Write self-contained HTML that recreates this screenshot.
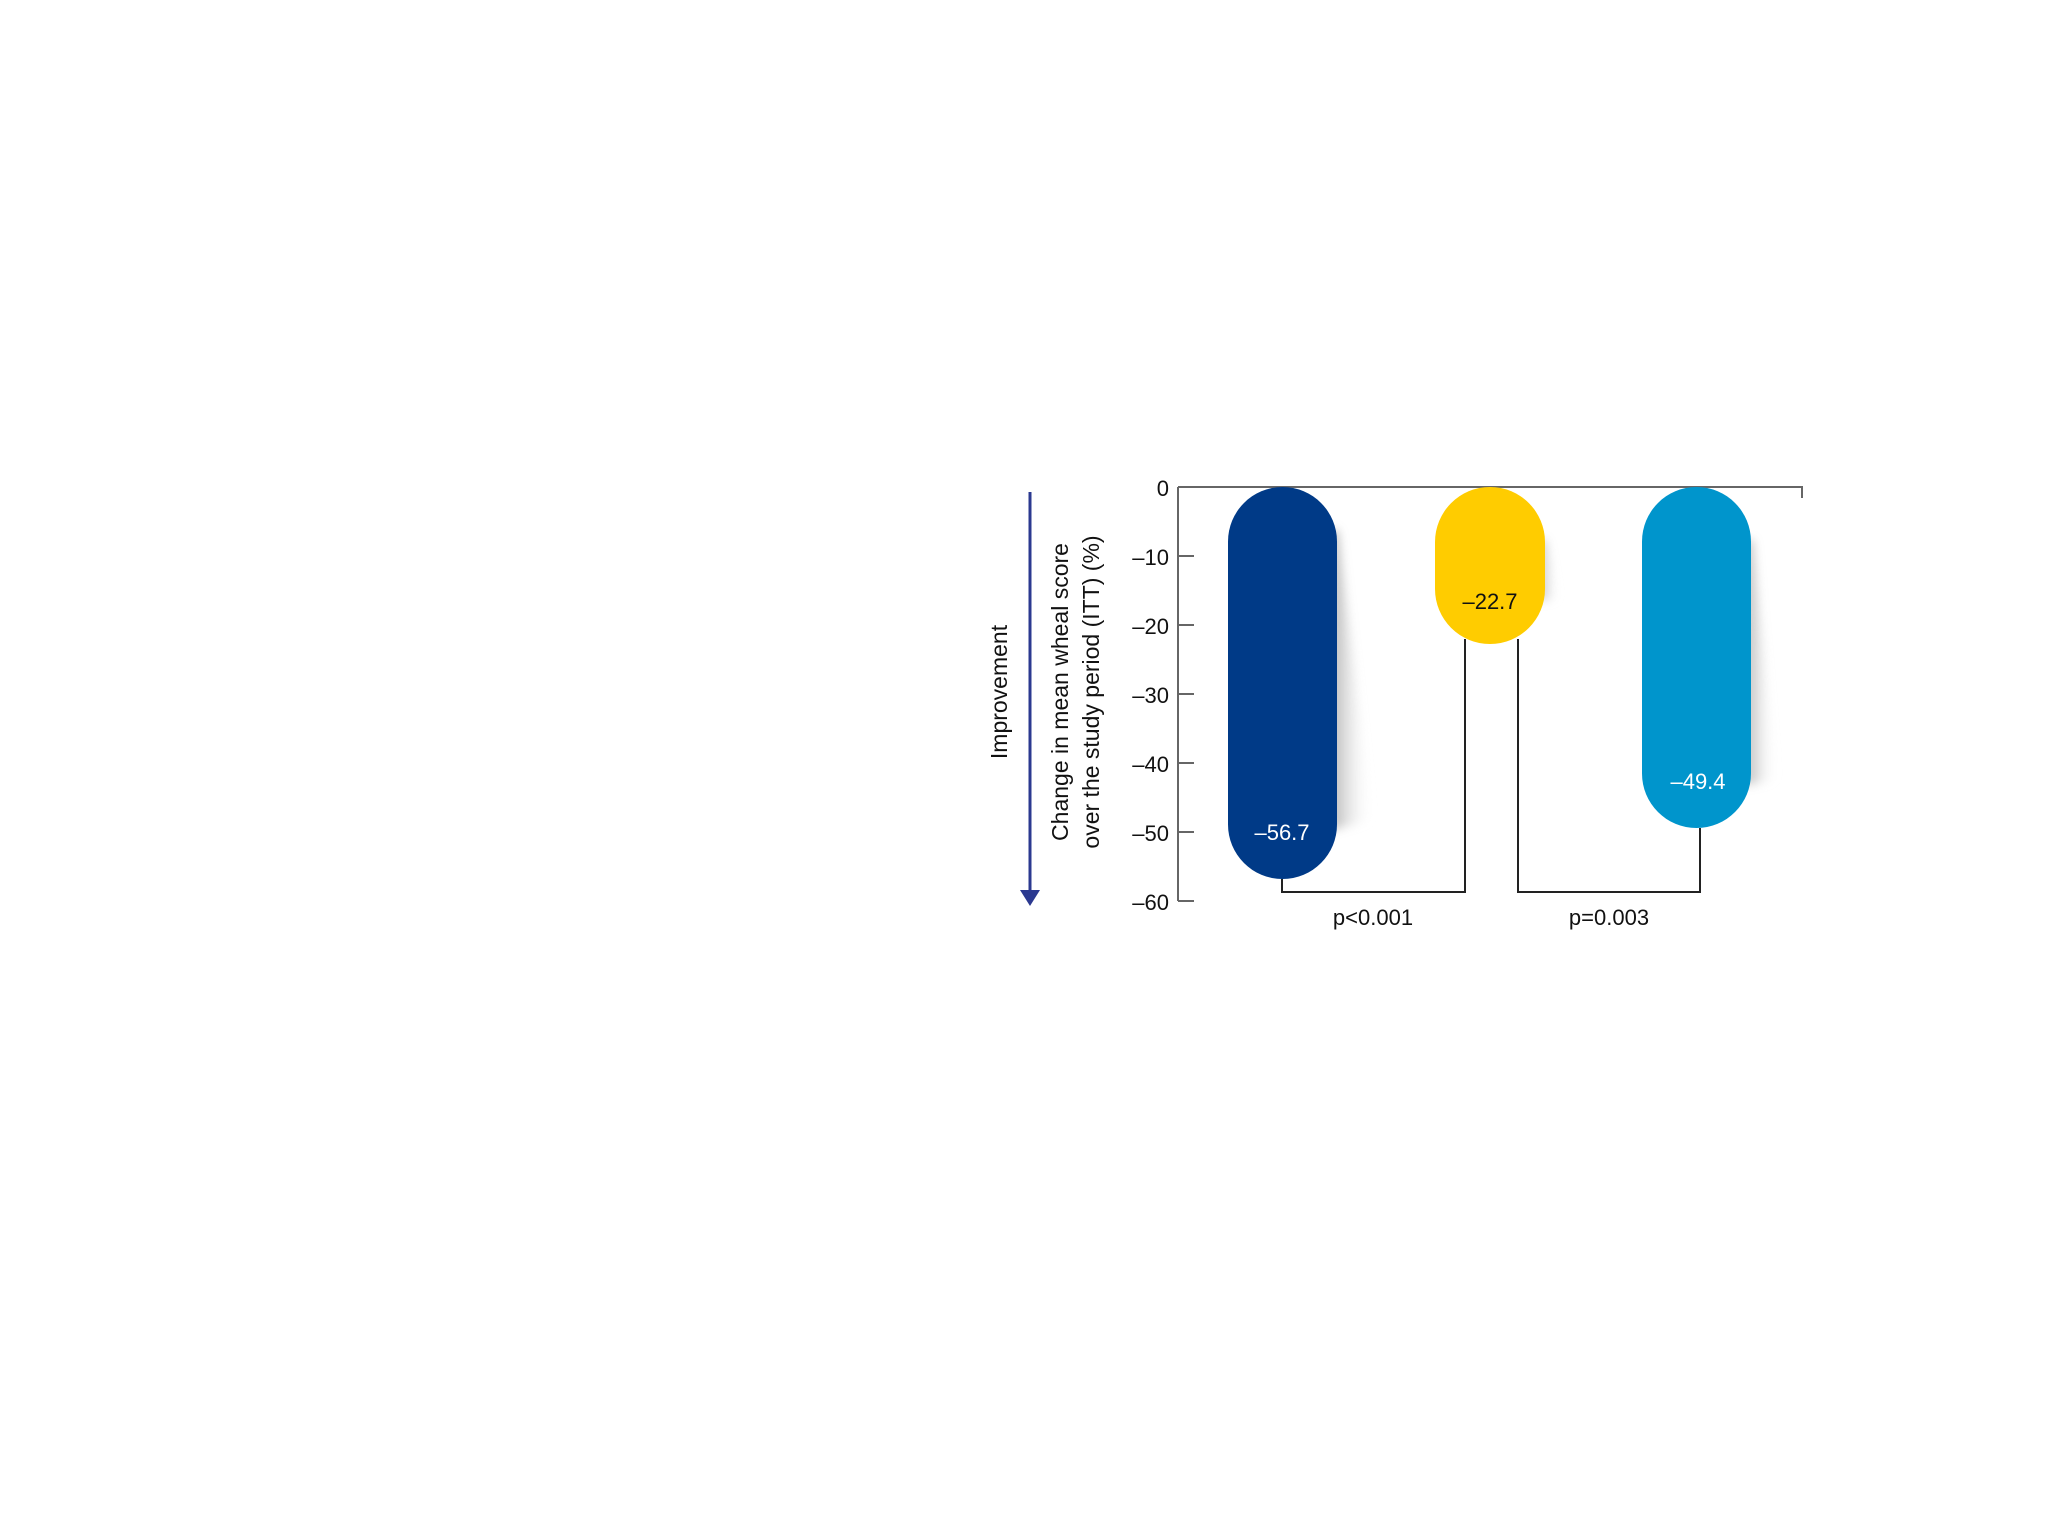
<!DOCTYPE html>
<html><head><style>
html,body{margin:0;padding:0;background:#fff;}
svg{display:block;}
text{font-family:"Liberation Sans",Arial,sans-serif;}
</style></head><body>
<svg width="2048" height="1536" viewBox="0 0 2048 1536" xmlns="http://www.w3.org/2000/svg">
<defs>
<filter id="bl" x="-50%" y="-20%" width="200%" height="140%"><feGaussianBlur stdDeviation="5"/></filter>
<linearGradient id="sg" x1="0" x2="1" y1="0" y2="0"><stop offset="0" stop-color="#999"/><stop offset="1" stop-color="#fff" stop-opacity="0"/></linearGradient>
</defs>
<polygon points="1330,530 1338,530 1372,820 1330,830" fill="url(#sg)" filter="url(#bl)" opacity="0.8"/>
<polygon points="1538,540 1546,540 1558,600 1538,600" fill="url(#sg)" filter="url(#bl)" opacity="0.8"/>
<polygon points="1745,540 1753,540 1776,780 1745,785" fill="url(#sg)" filter="url(#bl)" opacity="0.8"/>
<g stroke="#666" stroke-width="2" fill="none">
<polyline points="1178,487 1802,487 1802,498"/>
<line x1="1178" y1="487" x2="1178" y2="901"/>
<line x1="1178" y1="556" x2="1194" y2="556"/>
<line x1="1178" y1="625" x2="1194" y2="625"/>
<line x1="1178" y1="694" x2="1194" y2="694"/>
<line x1="1178" y1="763" x2="1194" y2="763"/>
<line x1="1178" y1="832" x2="1194" y2="832"/>
<line x1="1178" y1="901" x2="1194" y2="901"/>
</g>
<g font-size="22" text-anchor="end" fill="#111">
<text x="1169" y="496">0</text>
<text x="1169" y="565">–10</text>
<text x="1169" y="634">–20</text>
<text x="1169" y="703">–30</text>
<text x="1169" y="772">–40</text>
<text x="1169" y="841">–50</text>
<text x="1169" y="910">–60</text>
</g>
<rect x="1228" y="487" width="109" height="392" rx="54.5" fill="#003a87"/>
<rect x="1435" y="487" width="110" height="157" rx="55" fill="#ffcc00"/>
<rect x="1642" y="487" width="109" height="341" rx="54.5" fill="#0095cc"/>
<text x="1282" y="840" font-size="22" fill="#fff" text-anchor="middle">–56.7</text>
<text x="1490" y="609" font-size="22" fill="#111" text-anchor="middle">–22.7</text>
<text x="1698" y="789" font-size="22" fill="#fff" text-anchor="middle">–49.4</text>
<g stroke="#222" stroke-width="2" fill="none">
<polyline points="1282,879 1282,892 1465,892 1465,639"/>
<polyline points="1518,639 1518,892 1700,892 1700,828"/>
</g>
<text x="1373" y="925" font-size="22" text-anchor="middle" fill="#111">p&lt;0.001</text>
<text x="1609" y="925" font-size="22" text-anchor="middle" fill="#111">p=0.003</text>
<line x1="1030" y1="492" x2="1030" y2="892" stroke="#2b3990" stroke-width="3"/>
<polygon points="1020,890 1040,890 1030,906" fill="#2b3990"/>
<text transform="translate(1007,692) rotate(-90)" font-size="23" text-anchor="middle" fill="#111">Improvement</text>
<text transform="translate(1068,692) rotate(-90)" font-size="23" text-anchor="middle" fill="#111">Change in mean wheal score</text>
<text transform="translate(1099,692) rotate(-90)" font-size="23" text-anchor="middle" fill="#111">over the study period (ITT) (%)</text>
</svg>
</body></html>
